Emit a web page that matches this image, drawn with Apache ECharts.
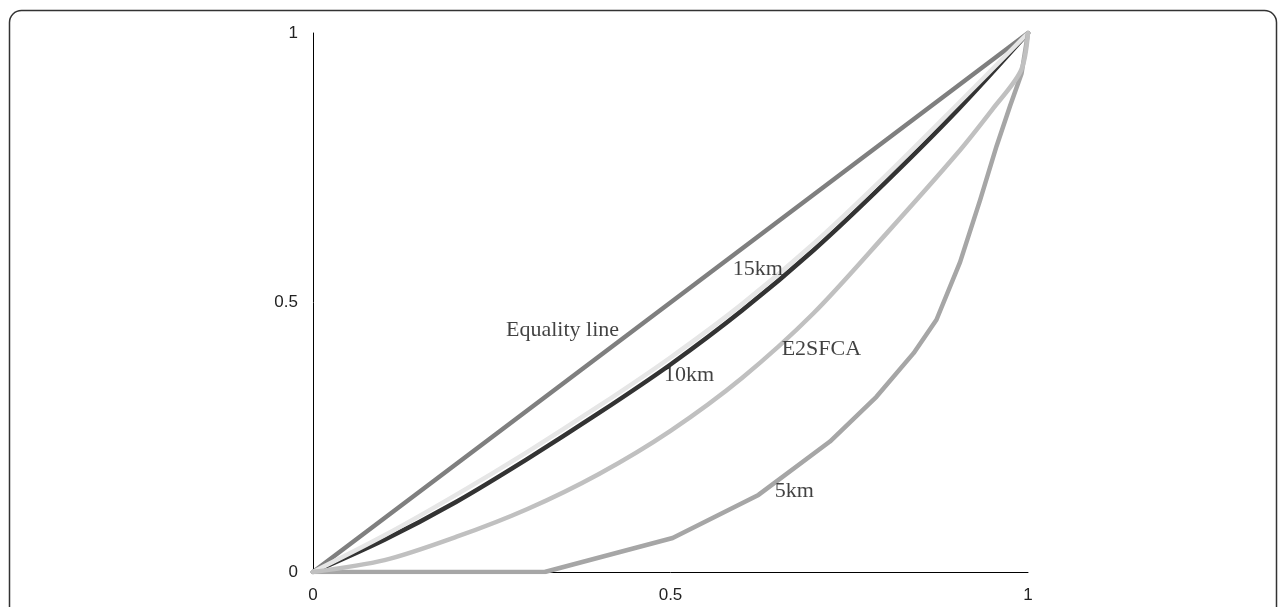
<!DOCTYPE html>
<html>
<head>
<meta charset="utf-8">
<style>
html,body{margin:0;padding:0;background:#fff;}
#chart{width:1287px;height:607px;}
</style>
<script src="https://cdn.jsdelivr.net/npm/echarts@6/dist/echarts.min.js"></script>
</head>
<body>
<div id="chart"></div>
<script>
// ---- data ----
const equalityX = [0, 1];
const equalityY = [0, 1];

const km10X = [0, 0.1, 0.2, 0.3, 0.4, 0.5, 0.6, 0.7, 0.8, 0.9, 1];
const km10Y = [0, 0.06, 0.13, 0.21, 0.295, 0.385, 0.485, 0.597, 0.722, 0.855, 1];

const km15X = [0, 0.1, 0.2, 0.3, 0.4, 0.5, 0.6, 0.7, 0.8, 0.9, 1];
const km15Y = [0, 0.068, 0.143, 0.223, 0.308, 0.398, 0.497, 0.609, 0.734, 0.866, 1];

const e2sfcaX = [0, 0.1, 0.2, 0.3, 0.4, 0.5, 0.6, 0.7, 0.8, 0.9, 0.95, 0.99, 1];
const e2sfcaY = [0, 0.022, 0.065, 0.117, 0.182, 0.262, 0.36, 0.48, 0.625, 0.775, 0.858, 0.93, 1];

const km5X = [0, 0.324, 0.503, 0.623, 0.723, 0.788, 0.840, 0.872, 0.905, 0.933, 0.956, 0.975, 0.991, 1];
const km5Y = [0, 0, 0.063, 0.143, 0.242, 0.325, 0.406, 0.468, 0.575, 0.69, 0.79, 0.865, 0.925, 1];

const labelNames = ['Equality line', '15km', '10km', 'E2SFCA', '5km'];
const labelX = [0.349, 0.622, 0.526, 0.711, 0.673];
const labelY = [0.449, 0.562, 0.365, 0.414, 0.150];

const xTicks = [0, 0.5, 1];
const yTicks = [0, 0.5, 1];

// ---- build ----
const zip = (xs, ys) => xs.map((x, i) => [x, ys[i]]);

function lineSeries(name, xs, ys, color, smooth) {
  return {
    name: name,
    type: 'line',
    data: zip(xs, ys),
    showSymbol: false,
    symbol: 'none',
    smooth: smooth,
    lineStyle: { color: color, width: 4.5, cap: 'round', join: 'round' },
    silent: true,
    z: 2
  };
}

const chart = echarts.init(document.getElementById('chart'), null, { renderer: 'canvas' });

const option = {
  animation: false,
  backgroundColor: '#ffffff',
  grid: { left: 313, right: 259, top: 33, bottom: 35, containLabel: false },
  xAxis: {
    type: 'value', min: 0, max: 1, interval: 0.5,
    axisLine: { show: true, lineStyle: { color: '#000', width: 1 } },
    axisTick: { show: false },
    splitLine: { show: false },
    axisLabel: {
      color: '#222', fontFamily: 'Liberation Sans', fontSize: 17, margin: 15,
      formatter: v => (xTicks.includes(v) ? String(v) : '')
    }
  },
  yAxis: {
    type: 'value', min: 0, max: 1, interval: 0.5,
    axisLine: { show: true, lineStyle: { color: '#000', width: 1 } },
    axisTick: { show: false },
    splitLine: { show: false },
    axisLabel: {
      color: '#222', fontFamily: 'Liberation Sans', fontSize: 17, margin: 15,
      formatter: v => (yTicks.includes(v) ? String(v) : '')
    }
  },
  graphic: [{
    type: 'rect',
    shape: { x: 9.5, y: 10.5, width: 1267, height: 640, r: 12 },
    style: { fill: 'none', stroke: '#333', lineWidth: 1.5 },
    silent: true, z: 100
  }],
  series: [
    lineSeries('Equality line', equalityX, equalityY, '#7f7f7f', false),
    lineSeries('10km', km10X, km10Y, '#333333', 0.3),
    lineSeries('15km', km15X, km15Y, '#e6e6e6', 0.3),
    lineSeries('5km', km5X, km5Y, '#a6a6a6', false),
    lineSeries('E2SFCA', e2sfcaX, e2sfcaY, '#c0c0c0', 0.3),
    {
      name: 'labels',
      type: 'scatter',
      symbolSize: 0,
      silent: true,
      z: 10,
      data: labelNames.map((n, i) => ({ name: n, value: [labelX[i], labelY[i]] })),
      label: {
        show: true, position: 'inside',
        formatter: p => p.name,
        color: '#111', fontFamily: 'Liberation Serif', fontSize: 22
      }
    }
  ]
};
chart.setOption(option);
</script>
</body>
</html>
